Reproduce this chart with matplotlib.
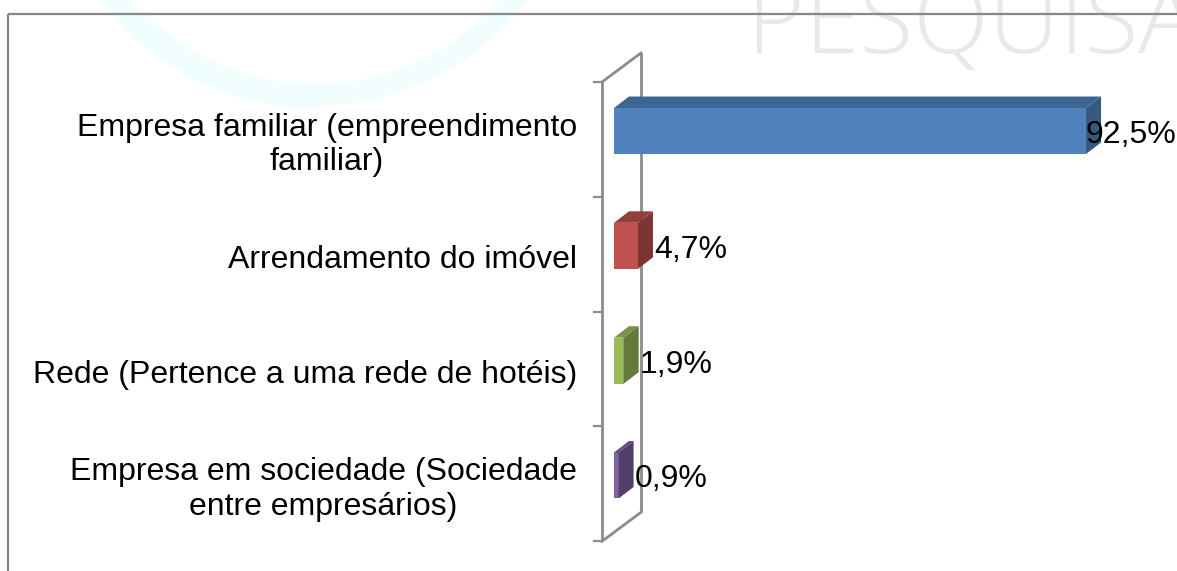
import matplotlib
matplotlib.use("Agg")
import matplotlib.pyplot as plt
from matplotlib.patches import Polygon, Rectangle, Arc
from matplotlib.transforms import offset_copy
import numpy as np

# ---- data ----
categories = ["Empresa familiar (empreendimento\nfamiliar)",
              "Arrendamento do imóvel",
              "Rede (Pertence a uma rede de hotéis)",
              "Empresa em sociedade (Sociedade\nentre empresários)"]
values = [92.5, 4.7, 1.9, 0.9]
value_labels = ["92,5%", "4,7%", "1,9%", "0,9%"]

front_colors = ["#4f81bd", "#c0504d", "#9bbb59", "#8064a2"]
top_colors = ["#3d6592", "#953f3c", "#789347", "#624c7e"]
side_colors = ["#35597f", "#7d3432", "#66793c", "#523f6a"]

W, H = 1177, 571
DPI = 100
plt.rcParams['font.family'] = ['Liberation Sans', 'DejaVu Sans']
FS = 23.04

fig = plt.figure(figsize=(W / DPI, H / DPI), dpi=DPI)
fig.patch.set_facecolor("white")

# background decorations in pixel coordinates
bg = fig.add_axes([0, 0, 1, 1])
bg.set_xlim(0, W)
bg.set_ylim(H, 0)
bg.axis("off")
bg.add_patch(Arc((316, -157), 2 * 252, 2 * 252, theta1=15, theta2=178,
                 color="#e4fdfd", lw=16, alpha=0.45, zorder=0))
bg.add_patch(Arc((316, -157), 2 * 262, 2 * 262, theta1=90, theta2=175,
                 color="#e9fefe", lw=8, alpha=0.4, zorder=0))
bg.text(747, 53, "PESQUISA", fontsize=71, family=["Open Sans", "DejaVu Sans"],
        fontweight="light", color="#e9e9e9", ha="left", va="baseline", zorder=1)
bg.add_patch(Rectangle((8, 14), W + 20, H + 20, fill=False, ec="#878787",
                       lw=1.6, zorder=2))

# main chart axes: x = percent, y = category index
ax = fig.add_axes([0, 0, 1, 1])
ax.patch.set_alpha(0)
PXX = 5.103     # px per percent unit
X0 = 614        # px of zero
PXY = 114.83    # px per category
Y0 = 131        # px of first category front center
ax.set_xlim(-X0 / PXX, (W - X0) / PXX)
ax.set_ylim((H - Y0) / PXY, -Y0 / PXY)
ax.axis("off")

n = len(categories)
ypos = np.arange(n)
bar_h = 46 / PXY
ddx = 15 / PXX
ddy = -11.5 / PXY

# wall (vertical 3D plane)
wall_c = "#8c8c8c"
wdx = 39 / PXX
wdy = -29 / PXY
wx = -12 / PXX
bounds = np.arange(n + 1) - 0.427
ax.plot([wx, wx], [bounds[0], bounds[-1]], color=wall_c, lw=2, zorder=3,
        solid_capstyle="butt")
ax.plot([wx + wdx, wx + wdx], [bounds[0] + wdy, bounds[-1] + wdy], color=wall_c,
        lw=2, zorder=1, solid_capstyle="butt")
ax.plot([wx, wx + wdx], [bounds[0], bounds[0] + wdy], color=wall_c, lw=2, zorder=1)
ax.plot([wx, wx + wdx], [bounds[-1], bounds[-1] + wdy], color=wall_c, lw=2, zorder=1)
for b in bounds:
    ax.plot([wx - 8 / PXX, wx], [b, b], color=wall_c, lw=1.6, zorder=3)

# bars
ax.barh(ypos, values, height=bar_h, left=0, color=front_colors, zorder=4,
        linewidth=0)
for i, v in enumerate(values):
    top = i - bar_h / 2
    bot = i + bar_h / 2
    ax.add_patch(Polygon([(0, top), (v, top), (v + ddx, top + ddy), (ddx, top + ddy)],
                         closed=True, fc=top_colors[i], ec="none", zorder=4))
    ax.add_patch(Polygon([(v, top), (v + ddx, top + ddy), (v + ddx, bot + ddy), (v, bot)],
                         closed=True, fc=side_colors[i], ec="none", zorder=4))

# category labels
lab_tr = offset_copy(ax.transData, fig=fig, x=0, y=-5.5, units="dots")
for i, c in enumerate(categories):
    ax.text(-37 / PXX, i + 0.074, c, transform=lab_tr, ha="right", va="center",
            multialignment="center", fontsize=FS, color="black", zorder=5)

# value labels
val_tr = offset_copy(ax.transData, fig=fig, x=1, y=-4, units="dots")
texts = []
for i, (v, t) in enumerate(zip(values, value_labels)):
    texts.append(ax.text(v + ddx, i, t, transform=val_tr, ha="left", va="center",
                         fontsize=FS, color="black", zorder=6))
fig.canvas.draw()
r = fig.canvas.get_renderer()
for t in texts:
    bb = t.get_window_extent(r)
    if bb.x1 > W:
        x, y = t.get_position()
        t.set_position((x - (bb.x1 - W + 1) / PXX, y))

fig.savefig("out.png", dpi=DPI, facecolor="white")
